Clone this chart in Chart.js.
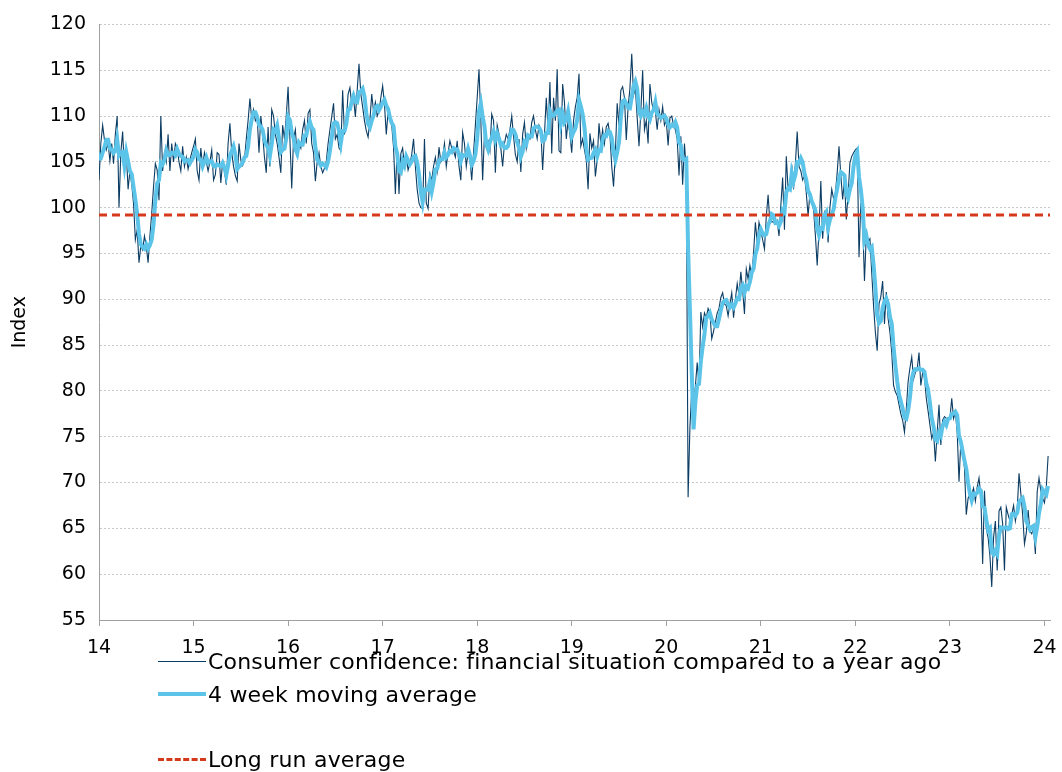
<!DOCTYPE html>
<html>
<head>
<meta charset="utf-8">
<script src="https://cdn.jsdelivr.net/npm/chart.js@4.4.1/dist/chart.umd.min.js"></script>
<style>
  html, body { margin: 0; padding: 0; background: #fff; }
  #wrap { position: relative; width: 1062px; height: 772px; }
  #chart { position: absolute; left: 0; top: 0; }
  .legend { position: absolute; left: 158px; top: 0; font: 22px "DejaVu Sans", Verdana, sans-serif; letter-spacing: 0.2px; color: #000; }
  .row { position: absolute; left: 0; height: 26px; white-space: nowrap; display: flex; align-items: center; }
  .sw { width: 48px; height: 0; margin-right: 2px; }
</style>
</head>
<body>
<div id="wrap">
  <canvas id="chart" width="1062" height="772"></canvas>
  <div class="legend" id="legend"></div>
</div>
<script>
// weekly index values, one array per year (yy = two digit year)
const tail2013 = [107, 106.5, 105];
const v2014 = [103, 107, 109, 107.4, 106.3, 107, 105.1, 107, 104.8, 108, 110, 100, 106, 108.3, 104, 106, 102, 104, 102.6, 100.4,
  96.5, 97.6, 94, 95.8, 95.4, 96.9, 95.8, 94, 96.9, 99.4, 102.3, 104.8, 104.1, 100.8, 110, 104, 106, 105, 108, 104,
  107, 105, 107, 106.5, 105, 104, 106.7, 104.5, 105.5, 104.2, 105.2, 106];
const v2015 = [106.7, 107.5, 104, 103, 106.5, 104.5, 106, 105, 104, 105, 106.3, 103, 103.6, 106, 105.8, 102.7, 105, 104, 102.5, 107,
  109.2, 106, 104.5, 103.5, 102.9, 107, 105.2, 104.6, 105.2, 107.5, 109.5, 111.9, 109.6, 110.7, 109.5, 109.9, 106, 110, 108, 105.5,
  103.8, 108.8, 104.5, 110.7, 110, 108, 107, 105.5, 103.8, 109, 107.5, 110];
const v2016 = [113.2, 107.5, 102.1, 107.5, 108.5, 105.5, 107, 106.5, 108.5, 109.5, 107, 110.3, 110.7, 107, 106, 102.9, 105, 106, 104.5, 103.8,
  104.3, 105, 107, 108.5, 109.9, 111.4, 107.5, 108, 106.5, 106.2, 112.8, 108, 109.5, 112.4, 113.1, 111.3, 112, 109.9, 112.8, 115.7,
  112.4, 111, 109.5, 108.4, 107.7, 109.5, 112.4, 110.5, 111.5, 110, 110.5, 112];
const v2017 = [113.3, 111.3, 108, 110.5, 109.5, 109, 106.6, 101.5, 106.5, 101.5, 105.9, 106.5, 104.5, 105.5, 104.1, 104.8, 105.8, 107.5, 104.5, 102,
  100.5, 100, 99.9, 107.5, 100.5, 99.9, 103.7, 103, 104.5, 105.5, 104, 106.6, 105, 105.5, 107, 104.5, 106, 107.3, 106.5, 106.2,
  105.5, 107.3, 104.5, 103, 108.2, 107, 104.5, 106, 105.3, 103, 106, 109];
const v2018 = [112, 115.1, 109.5, 103, 108, 107, 107.3, 106.2, 110.2, 109.5, 103.8, 109, 108, 106.5, 104.5, 107, 108, 107.5, 108.5, 110,
  107.8, 105.8, 105, 107.5, 103.9, 108, 109.3, 106.5, 107.8, 107.5, 109.3, 110, 108.5, 107.5, 109, 108.5, 104.1, 108, 112, 108.5,
  113.7, 105.9, 112, 109.5, 115.1, 106.2, 106, 113.5, 111.5, 107.5, 109.5, 108];
const v2019 = [106, 109.5, 111, 112, 114.6, 106.7, 107.5, 106.3, 105.2, 102, 108.1, 106.5, 107.3, 103.4, 105.2, 109.2, 107, 108.5, 107, 108.8,
  109.2, 108, 104.5, 102.3, 106, 111.4, 109, 112.8, 113.2, 112, 107.4, 111, 113, 116.8, 112.3, 113, 109.8, 106.7, 110.5, 115,
  108.5, 109.5, 107, 113.5, 111.5, 110.5, 110.5, 108.5, 110.7, 109.5, 111, 109];
const v2020 = [109.5, 106.8, 109.8, 110, 109, 108.5, 107.5, 103.5, 107.8, 102.5, 107, 104, 68.4, 76, 80, 78.8, 80.5, 83.1, 80.6, 88.6,
  87, 88.5, 88, 89, 88.5, 85.7, 86.5, 87.5, 88.5, 89, 90.2, 90.7, 89.5, 89.3, 88.2, 89.5, 90.7, 88, 90, 91.7,
  90.4, 93, 91, 88.4, 93.3, 92.2, 93.7, 92.5, 95, 98.4, 96.2, 98.4];
const v2021 = [97.5, 96.5, 95.5, 99, 101.4, 98.3, 98.5, 98.4, 98.2, 98.6, 96.9, 100.2, 103.3, 97.6, 105.6, 102, 102.8, 104.7, 102, 104.8,
  108.3, 104.5, 104, 103, 103.5, 101.6, 99.1, 101.6, 100.5, 99.8, 97, 93.7, 97.5, 102.9, 96.6, 99.5, 99, 96.2, 100, 102,
  101, 101.5, 103.8, 106.7, 103.5, 100.9, 103, 98.7, 101.5, 104.9, 105.6, 106];
const v2022 = [106.3, 106.5, 94.6, 100.5, 98.5, 92, 97, 96.3, 96.6, 92.9, 89.3, 86.4, 84.4, 89.5, 90.3, 92, 87.3, 90.8, 87.9, 86.4,
  84.2, 80.6, 79.9, 79.5, 78.5, 77.5, 76.8, 75.5, 78, 81, 82.5, 83.7, 81.3, 82, 82.4, 84.2, 80.6, 82, 81.5, 79.2,
  77.8, 76.3, 74.8, 75.5, 72.3, 75.5, 78.5, 74.1, 76.8, 77.2, 77, 76.8];
const v2023 = [77, 79.2, 77, 77.7, 75.5, 70.1, 74.5, 73.4, 71.6, 66.5, 68.3, 68.7, 68.7, 69.4, 68, 69.5, 70.5, 68.5, 61.1, 69.1,
  65, 64, 62, 58.6, 64, 65.8, 60.4, 66.9, 67.3, 65.5, 60.4, 67.3, 66.5, 65.8, 66.5, 67.5, 65.8, 67, 71, 68.8,
  66.5, 63.3, 64.5, 67, 64.7, 64.4, 65, 62.2, 69, 70.5, 69.1, 68.3];
const v2024 = [67.8, 69.5, 72.9];

const longRunAvg = 99.2;
const yearTicks = [14, 15, 16, 17, 18, 19, 20, 21, 22, 23, 24];
const yMin = 55, yMax = 120, yStep = 5;

const seriesLabels = [
  'Consumer confidence: financial situation compared to a year ago',
  '4 week moving average',
  'Long run average'
];

// build weekly points (x = year + week/52)
const years = [[13, tail2013, 49], [14, v2014, 0], [15, v2015, 0], [16, v2016, 0], [17, v2017, 0], [18, v2018, 0],
  [19, v2019, 0], [20, v2020, 0], [21, v2021, 0], [22, v2022, 0], [23, v2023, 0], [24, v2024, 0]];
const raw = [];
years.forEach(([yy, arr, startWeek]) => {
  arr.forEach((v, i) => raw.push({ x: yy + (startWeek + i) / 52, y: v }));
});
const ma = raw.map((p, i) => {
  const win = raw.slice(Math.max(0, i - 3), i + 1);
  return { x: p.x, y: win.reduce((s, q) => s + q.y, 0) / win.length };
});
const xMax = raw[raw.length - 1].x + 0.02;
const lra = [{ x: yearTicks[0], y: longRunAvg }, { x: xMax, y: longRunAvg }];

const font = '"DejaVu Sans", Verdana, sans-serif';
const colDark = '#0b3c63', colBlue = '#5bc4e8', colRed = '#d6381c';

new Chart(document.getElementById('chart'), {
  type: 'line',
  data: {
    datasets: [
      { label: seriesLabels[0], data: raw, borderColor: colDark, borderWidth: 1.1, pointRadius: 0, tension: 0, order: 3 },
      { label: seriesLabels[1], data: ma, borderColor: colBlue, borderWidth: 4, pointRadius: 0, tension: 0, order: 2 },
      { label: seriesLabels[2], data: lra, borderColor: colRed, borderWidth: 3, borderDash: [8, 5], pointRadius: 0, order: 1 }
    ]
  },
  options: {
    responsive: false,
    animation: false,
    layout: { padding: { top: 21, right: 12, bottom: 107, left: 0 } },
    plugins: { legend: { display: false }, tooltip: { enabled: false } },
    scales: {
      x: {
        type: 'linear',
        min: yearTicks[0],
        max: xMax,
        afterBuildTicks: s => { s.ticks = yearTicks.map(v => ({ value: v })); },
        afterFit: s => { s.height = 45; },
        ticks: { color: '#000', font: { family: font, size: 19 }, padding: 5, maxRotation: 0, callback: v => String(v) },
        // long tick slot, but only the first 5px of it is drawn
        grid: { drawOnChartArea: false, drawTicks: true, tickLength: 12, tickColor: '#a0a0a0', tickBorderDash: [5, 60] },
        border: { display: true, color: '#a0a0a0', width: 1 }
      },
      y: {
        min: yMin,
        max: yMax,
        afterFit: s => { s.width = 99; },
        ticks: { stepSize: yStep, color: '#000', font: { family: font, size: 19 }, padding: 13 },
        grid: { color: '#c8c8c8', lineWidth: 1, drawTicks: false },
        border: { display: true, color: '#a0a0a0', width: 1, dash: [2, 2] },
        title: { display: true, text: 'Index', color: '#000', font: { family: font, size: 19 }, padding: { top: 9, bottom: 0 } }
      }
    }
  }
});

// legend below the chart, stacked like the original
const legendRows = [
  { y: 661, style: `border-top:1.2px solid ${colDark}` },
  { y: 694, style: `border-top:4px solid ${colBlue}` },
  { y: 759, style: `border-top:3px dashed ${colRed}` }
];
const lg = document.getElementById('legend');
legendRows.forEach((r, i) => {
  const row = document.createElement('div');
  row.className = 'row';
  row.style.top = (r.y - 13) + 'px';
  row.innerHTML = `<span class="sw" style="${r.style}"></span><span>${seriesLabels[i]}</span>`;
  lg.appendChild(row);
});
</script>
</body>
</html>
